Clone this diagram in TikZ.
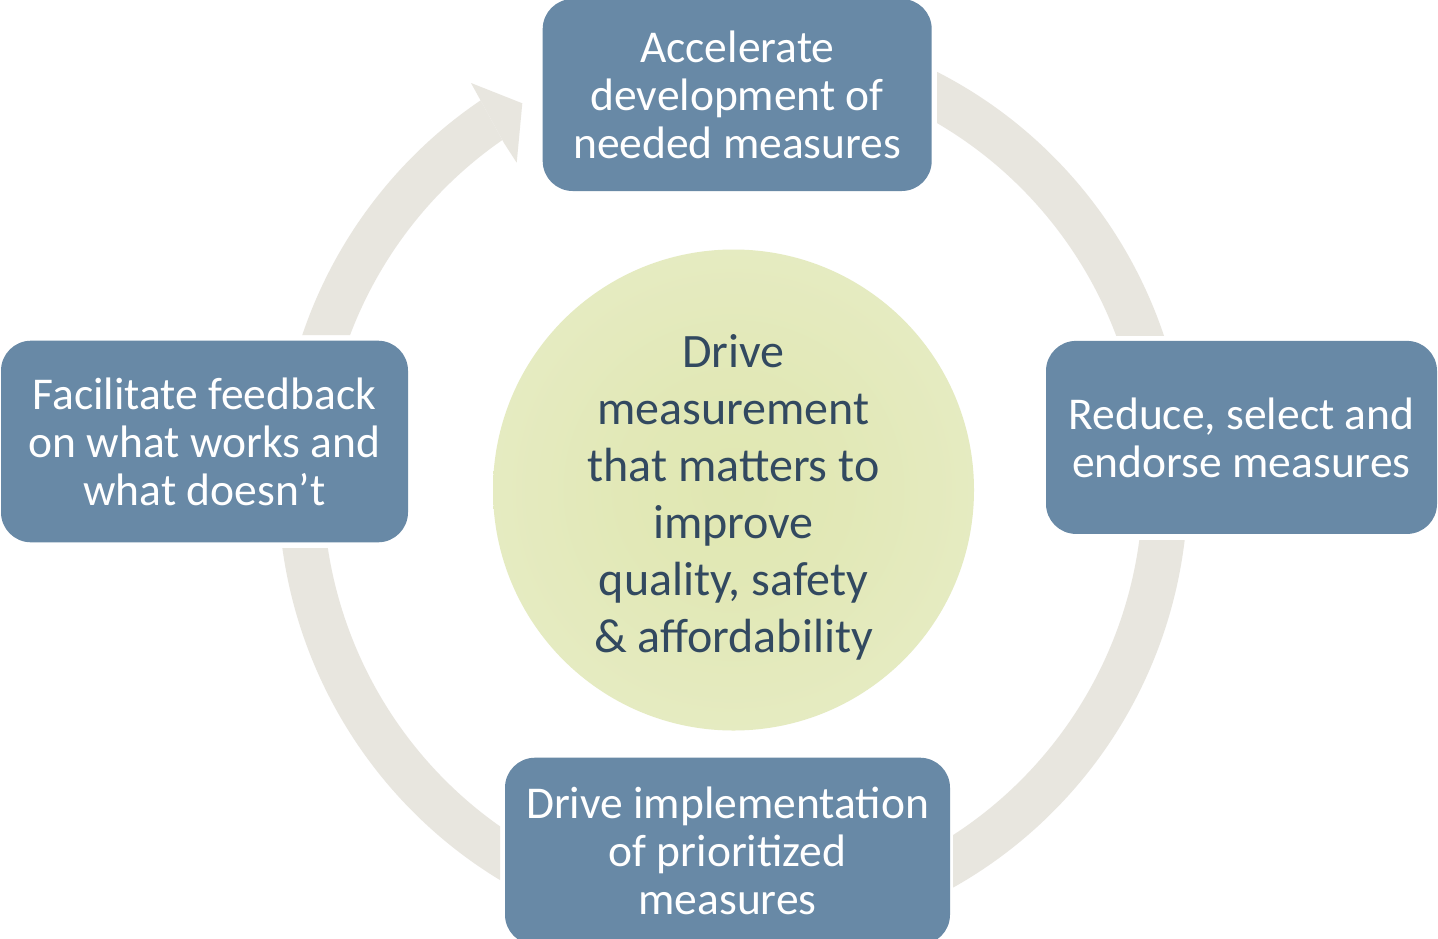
\documentclass[tikz,border=0pt]{standalone}
\usepackage{fontspec}
\setmainfont{Carlito}
\definecolor{boxblue}{RGB}{104,137,166}
\definecolor{ringgray}{RGB}{232,230,223}
\definecolor{centertext}{RGB}{50,73,96}
\definecolor{glowin}{RGB}{224,231,178}
\definecolor{glowout}{RGB}{236,240,212}
\pgfdeclareradialshading{glow}{\pgfpoint{0bp}{0bp}}{color(0bp)=(glowin); color(12bp)=(glowin!85!glowout); color(50bp)=(glowout)}
\tikzset{
  stepbox/.style={draw=none, fill=boxblue, rounded corners=30pt, text=white,
    align=center, inner sep=0pt, font=\fontsize{45.5}{48}\selectfont},
  ringfill/.style={fill=ringgray, even odd rule},
  hub/.style={circle, draw=none, shading=glow, minimum size=481pt, inner sep=0pt,
    text=centertext, align=center, font=\fontsize{48}{57}\selectfont}
}
\begin{document}
\begin{tikzpicture}[x=1pt,y=-1pt]
\useasboundingbox (0,0) rectangle (1438,938);
\fill[white] (0,0) rectangle (1438,938);
% ring segments
\begin{scope}
  \clip (937,-50) rectangle (1500,335);
  \fill[ringfill] (733,484) ellipse [x radius=455pt, y radius=461pt]
                  (733,484) ellipse [x radius=410pt, y radius=416pt];
\end{scope}
\begin{scope}
  \clip (953,540) rectangle (1500,1000);
  \fill[ringfill] (733,484) ellipse [x radius=455pt, y radius=461pt]
                  (733,484) ellipse [x radius=410pt, y radius=416pt];
\end{scope}
\begin{scope}
  \clip (-50,548) rectangle (500,1000);
  \fill[ringfill] (733,484) ellipse [x radius=455pt, y radius=461pt]
                  (733,484) ellipse [x radius=410pt, y radius=416pt];
\end{scope}
\begin{scope}
  \clip (-50,-50) -- (397.85,-50) -- (609.6,335) -- (-50,335) -- cycle;
  \fill[ringfill] (733,484) ellipse [x radius=455pt, y radius=461pt]
                  (733,484) ellipse [x radius=410pt, y radius=416pt];
\end{scope}
\fill[ringgray] (482,103) -- (471,83) -- (522.3,103.3) -- (516.7,162.7) -- (504,143) -- cycle;
% hub
\node[hub] (hub) at (733.5,490) {\rule{0pt}{48pt}Drive\\measurement\\that matters to\\improve\\quality, safety\\\& affordability};
% boxes
\node[stepbox, minimum width=389pt, minimum height=192pt] (top) at (737.2,95) {Accelerate\\development of\\needed measures};
\node[stepbox, minimum width=391pt, minimum height=193pt] (right) at (1241.5,437.4) {Reduce, select and\\endorse measures};
\node[stepbox, minimum width=407pt, minimum height=201.6pt] (left) at (204.5,441.5) {Facilitate feedback\\on what works and\\what doesn’t};
\node[stepbox, minimum width=445pt, minimum height=187pt] (bottom) at (727.5,851.2) {Drive implementation\\of prioritized\\measures};
\end{tikzpicture}
\end{document}
